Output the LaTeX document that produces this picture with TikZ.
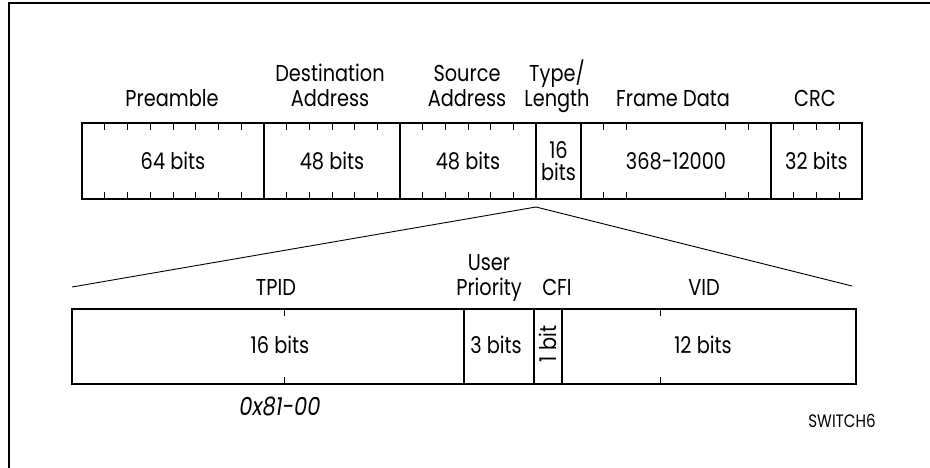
\documentclass[tikz,border=0pt]{standalone}
\usepackage{fontspec}
\setmainfont{Poppins}[FakeStretch=0.84]
\begin{document}
\begin{tikzpicture}[x=1pt, y=-1pt, font=\fontsize{23}{25}\selectfont,
  field/.style={draw, line width=1.7pt, inner sep=0pt},
  tick/.style={line width=0.9pt},
  head/.style={align=center, anchor=base, inner sep=0pt}]
\useasboundingbox (0,0) rectangle (930,468);
\draw[line width=1.8pt] (9,468) -- (9,3) -- (930,3);
% Ethernet frame
\node[field, minimum width=182pt, minimum height=76pt] (F_0_0) at (173,161) {64 bits};
\node[field, minimum width=136pt, minimum height=76pt] (F_0_1) at (332,161) {48 bits};
\node[field, minimum width=136pt, minimum height=76pt] (F_0_2) at (468,161) {48 bits};
\node[field, minimum width=45pt, minimum height=76pt, align=center, font=\fontsize{23}{22}\selectfont] (F_0_3) at (558.5,161) {16\\bits};
\node[field, minimum width=190pt, minimum height=76pt] (F_0_4) at (676,161) {368-12000};
\node[field, minimum width=91pt, minimum height=76pt] (F_0_5) at (816.5,161) {32 bits};
\draw[tick] (104.75,123) -- (104.75,130) (127.5,123) -- (127.5,130) (150.25,123) -- (150.25,130) (173,123) -- (173,130)
  (195.75,123) -- (195.75,130) (218.5,123) -- (218.5,130) (241.25,123) -- (241.25,130);
\draw[tick] (104.75,199) -- (104.75,192) (127.5,199) -- (127.5,192) (150.25,199) -- (150.25,192) (173,199) -- (173,192)
  (195.75,199) -- (195.75,192) (218.5,199) -- (218.5,192) (241.25,199) -- (241.25,192);
\draw[tick] (286.7,123) -- (286.7,130) (309.3,123) -- (309.3,130) (332,123) -- (332,130) (354.7,123) -- (354.7,130) (377.3,123) -- (377.3,130);
\draw[tick] (286.7,199) -- (286.7,192) (309.3,199) -- (309.3,192) (332,199) -- (332,192) (354.7,199) -- (354.7,192) (377.3,199) -- (377.3,192);
\draw[tick] (422.7,123) -- (422.7,130) (445.3,123) -- (445.3,130) (468,123) -- (468,130) (490.7,123) -- (490.7,130) (513.3,123) -- (513.3,130);
\draw[tick] (422.7,199) -- (422.7,192) (445.3,199) -- (445.3,192) (468,199) -- (468,192) (490.7,199) -- (490.7,192) (513.3,199) -- (513.3,192);
\draw[tick] (603.7,123) -- (603.7,130) (626.3,123) -- (626.3,130) (725.7,123) -- (725.7,130) (748.3,123) -- (748.3,130);
\draw[tick] (603.7,199) -- (603.7,192) (626.3,199) -- (626.3,192) (725.7,199) -- (725.7,192) (748.3,199) -- (748.3,192);
\draw[tick] (793.75,123) -- (793.75,130) (816.5,123) -- (816.5,130) (839.25,123) -- (839.25,130);
\draw[tick] (793.75,199) -- (793.75,192) (816.5,199) -- (816.5,192) (839.25,199) -- (839.25,192);
\node[head] (H_0_0) at (172,107) {Preamble};
\node[head] (H_0_1) at (330,107) {Destination\\Address};
\node[head] (H_0_2) at (467,107) {Source\\Address};
\node[head] (H_0_3) at (557,107) {Type/\\Length};
\node[head] (H_0_4) at (673,107) {Frame Data};
\node[head] (H_0_5) at (815,107) {CRC};
% fan out of the tag
\coordinate (T_top) at (536,207);
\coordinate (T_left) at (72,287);
\coordinate (T_right) at (852,286);
\draw[line width=0.9pt] (T_left) -- (T_top) -- (T_right);
% 802.1Q tag
\node[field, minimum width=392pt, minimum height=75pt] (F_1_0) at (268,346.5) {};
\node[field, minimum width=70pt, minimum height=75pt] (F_1_1) at (499,346.5) {};
\node[field, minimum width=28pt, minimum height=75pt] (F_1_2) at (548,346.5) {};
\node[field, minimum width=294pt, minimum height=75pt] (F_1_3) at (709,346.5) {};
\draw[tick] (284,309) -- (284,316) (284,384) -- (284,377);
\draw[tick] (660,309) -- (660,316) (660,384) -- (660,377);
\node (B_1_0) at (280,345) {16 bits};
\node (B_1_1) at (496,345) {3 bits};
\node[rotate=90, inner sep=0pt] (B_1_2) at (548,344) {1 bit};
\node (B_1_3) at (703,345) {12 bits};
\node[head] (H_1_0) at (276,295) {TPID};
\node[head] (H_1_1) at (489,295) {User\\Priority};
\node[head] (H_1_2) at (557,295) {CFI};
\node[head] (H_1_3) at (704,295) {VID};
\node[font=\fontsize{25}{28}\selectfont\itshape] (V_1_0) at (280,406) {0x81-00};
\node[font=\fontsize{18}{20}\selectfont] (S_0) at (842,421) {SWITCH6};
\end{tikzpicture}
\end{document}
